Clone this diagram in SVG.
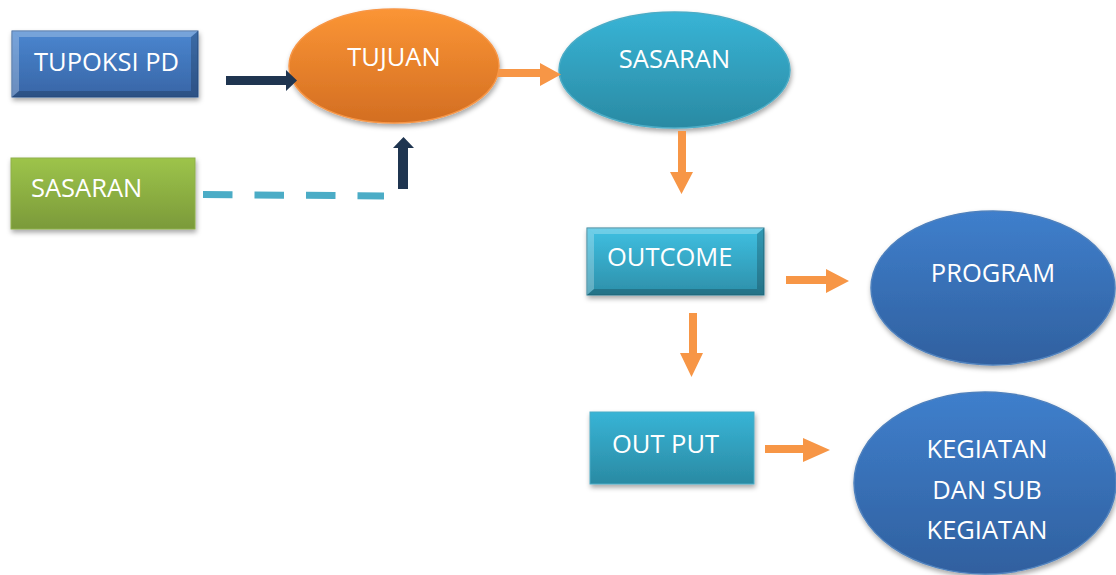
<svg xmlns="http://www.w3.org/2000/svg" width="1116" height="575" viewBox="0 0 1116 575">
<defs>
<linearGradient id="gBlue" x1="0" y1="0" x2="0" y2="1"><stop offset="0" stop-color="#4a86d0"/><stop offset="1" stop-color="#3865a6"/></linearGradient>
<linearGradient id="gGreen" x1="0" y1="0" x2="0" y2="1"><stop offset="0" stop-color="#9dc44a"/><stop offset="1" stop-color="#7b9a3a"/></linearGradient>
<linearGradient id="gOrange" x1="0" y1="0" x2="0" y2="1"><stop offset="0" stop-color="#fb9535"/><stop offset="1" stop-color="#d36e22"/></linearGradient>
<linearGradient id="gTeal" x1="0" y1="0" x2="0" y2="1"><stop offset="0" stop-color="#38b4d6"/><stop offset="1" stop-color="#2a8aa3"/></linearGradient>
<linearGradient id="gTealBox" x1="0" y1="0" x2="0" y2="1"><stop offset="0" stop-color="#3fc0e2"/><stop offset="1" stop-color="#2d8fa9"/></linearGradient>
<linearGradient id="gProg" x1="0" y1="0" x2="0" y2="1"><stop offset="0" stop-color="#3f7fcc"/><stop offset="1" stop-color="#30609f"/></linearGradient>
<filter id="sh" x="-10%" y="-10%" width="125%" height="130%"><feDropShadow dx="1" dy="3" stdDeviation="2.5" flood-color="#000" flood-opacity="0.35"/></filter>
</defs>
<style>
text{font-family:"Open Sans","Liberation Sans",sans-serif;font-size:25.5px;fill:#ffffff}
.c{text-anchor:middle}
.oa{fill:#f79646}
.da{fill:#1f3550}
.hi{fill:#ffffff;fill-opacity:0.25}
.lo{fill:#000000;fill-opacity:0.2}
</style>
<g id="tupoksi">
<rect x="12" y="31" width="186" height="66" fill="url(#gBlue)" stroke="#2f5a96" stroke-width="1" filter="url(#sh)"/>
<polygon class="hi" points="12,31 198,31 191,37 19,37"/>
<polygon class="hi" points="12,31 19,37 19,91 12,97"/>
<polygon class="lo" points="198,31 198,97 191,91 191,37"/>
<polygon class="lo" points="12,97 198,97 191,91 19,91"/>
<text x="34" y="71">TUPOKSI PD</text>
</g>
<g id="sasaran-src">
<rect x="11" y="158" width="184" height="71" fill="url(#gGreen)" stroke="#8fb04c" stroke-width="1" filter="url(#sh)"/>
<text x="31" y="197">SASARAN</text>
</g>
<g id="tujuan">
<ellipse cx="394" cy="66" rx="105" ry="57" fill="url(#gOrange)" stroke="#f79646" stroke-width="1.5" filter="url(#sh)"/>
<text class="c" x="394" y="66">TUJUAN</text>
</g>
<g id="sasaran">
<ellipse cx="674.5" cy="70" rx="115.5" ry="58" fill="url(#gTeal)" stroke="#4bacc6" stroke-width="1.5" filter="url(#sh)"/>
<text class="c" x="674.5" y="68">SASARAN</text>
</g>
<g id="outcome">
<rect x="587" y="228" width="177" height="67" fill="url(#gTealBox)" stroke="#2b7d93" stroke-width="1" filter="url(#sh)"/>
<polygon class="hi" points="587,228 764,228 757,234 594,234"/>
<polygon class="hi" points="587,228 594,234 594,289 587,295"/>
<polygon class="lo" points="764,228 764,295 757,289 757,234"/>
<polygon class="lo" points="587,295 764,295 757,289 594,289"/>
<text x="607" y="266">OUTCOME</text>
</g>
<g id="program">
<ellipse cx="993" cy="288" rx="122" ry="77" fill="url(#gProg)" stroke="#4f81bd" stroke-width="1.5" filter="url(#sh)"/>
<text class="c" x="993" y="282">PROGRAM</text>
</g>
<g id="output">
<rect x="590" y="412" width="164" height="72" fill="url(#gTeal)" stroke="#4bacc6" stroke-width="1" filter="url(#sh)"/>
<text x="612" y="453">OUT PUT</text>
</g>
<g id="kegiatan">
<ellipse cx="985" cy="483" rx="131" ry="91" fill="url(#gProg)" stroke="#4f81bd" stroke-width="1.5" filter="url(#sh)"/>
<text class="c" x="987" y="458">KEGIATAN</text>
<text class="c" x="987" y="499">DAN SUB</text>
<text class="c" x="987" y="539">KEGIATAN</text>
</g>
<g id="connectors">
<polygon class="da" points="226,76 286,76 286,70 297,80.5 286,91 286,85 226,85"/>
<polygon class="da" points="398,189 398,148 393,148 403.5,137 414,148 408,148 408,189"/>
<line x1="203" y1="194.5" x2="384" y2="196" stroke="#4bacc6" stroke-width="7" stroke-dasharray="29.5,22"/>
<polygon class="oa" points="498,69 540,69 540,63 561,74.5 540,86 540,77 498,77"/>
<polygon class="oa" points="678,131 686,131 686,172 693,172 681.5,194 670,172 678,172"/>
<polygon class="oa" points="786,276 826,276 826,269 849,281 826,293 826,284 786,284"/>
<polygon class="oa" points="689,313 697,313 697,353 703,353 691.5,377 680,353 689,353"/>
<polygon class="oa" points="765,445 803,445 803,438 830,450 803,462 803,453 765,453"/>
</g>
</svg>
